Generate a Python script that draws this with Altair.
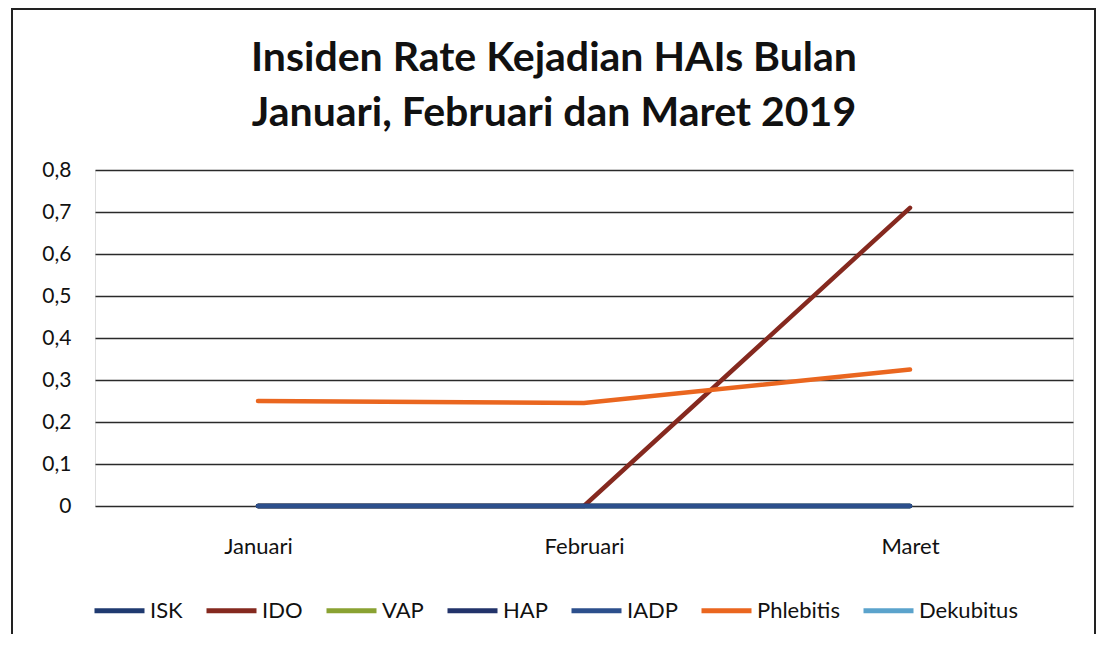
import altair as alt
import pandas as pd

months = ["Januari", "Februari", "Maret"]
series = ["ISK", "IDO", "VAP", "HAP", "IADP", "Phlebitis", "Dekubitus"]
colors = ["#1f3a70", "#85291f", "#8aa232", "#22336a", "#2c4f8c", "#ea661f", "#5ba3cc"]

isk = [0, 0, 0]
ido = [0, 0, 0.71]
vap = [0, 0, 0]
hap = [0, 0, 0]
iadp = [0, 0, 0]
phlebitis = [0.25, 0.245, 0.325]
dekubitus = [0, 0, 0]

values = {
    "ISK": isk, "IDO": ido, "VAP": vap, "HAP": hap,
    "IADP": iadp, "Phlebitis": phlebitis, "Dekubitus": dekubitus,
}
draw_order = ["Dekubitus", "VAP", "IDO", "ISK", "HAP", "IADP", "Phlebitis"]

rows = []
for s in draw_order:
    for m, v in zip(months, values[s]):
        rows.append({"Bulan": m, "Jenis": s, "Nilai": v})
df = pd.DataFrame(rows)

FONT = "Lato"
W, H = 978, 336

lines = alt.Chart(df).mark_line(strokeWidth=4.5, strokeCap="round").encode(
    x=alt.X("Bulan:N", sort=months, scale=alt.Scale(type="point", padding=0.5),
            axis=alt.Axis(title=None, labelAngle=0, domain=False, ticks=False, grid=False,
                          labelFont=FONT, labelFontSize=22, labelColor="#111",
                          labelPadding=30)),
    y=alt.Y("Nilai:Q", scale=alt.Scale(domain=[0, 0.8], nice=False),
            axis=alt.Axis(title=None, values=[0, 0.1, 0.2, 0.3, 0.4, 0.5, 0.6, 0.7, 0.8],
                          labelExpr="datum.value == 0 ? '0' : replace(format(datum.value, '.1f'), '.', ',')",
                          domain=False, ticks=False, grid=True, gridColor="#2a2a2a",
                          gridWidth=1.3, labelFont=FONT, labelFontSize=21,
                          labelColor="#111", labelPadding=24)),
    color=alt.Color("Jenis:N", scale=alt.Scale(domain=series, range=colors),
                    legend=alt.Legend(title=None, orient="none", direction="horizontal",
                                      legendX=-3, legendY=413, symbolType="stroke",
                                      symbolSize=2500, symbolStrokeWidth=5,
                                      labelFont=FONT, labelFontSize=22, labelColor="#111",
                                      labelOffset=3, columnPadding=13, columns=7)),
    detail="Jenis:N",
)

frame = alt.Chart(pd.DataFrame({"a": [1]})).mark_rect(
    fill=None, stroke="#222", strokeWidth=2, clip=False
).encode(
    x=alt.value(-83), x2=alt.value(1000), y=alt.value(-161), y2=alt.value(520)
)

chart = alt.layer(frame, lines).properties(
    width=W, height=H,
    title=alt.TitleParams(
        text=["Insiden Rate Kejadian HAIs Bulan", "Januari, Februari dan Maret 2019"],
        font=FONT, fontSize=41, fontWeight="bold", color="#111",
        anchor="middle", dx=-30, offset=-168, lineHeight=55, baseline="bottom",
    ),
    autosize=alt.AutoSizeParams(type="none"),
    padding={"left": 87, "top": 162, "right": 24, "bottom": 128},
).configure_view(stroke=None).configure(background="white")

chart.save("out.html", embed_options={"renderer": "svg", "actions": False})
